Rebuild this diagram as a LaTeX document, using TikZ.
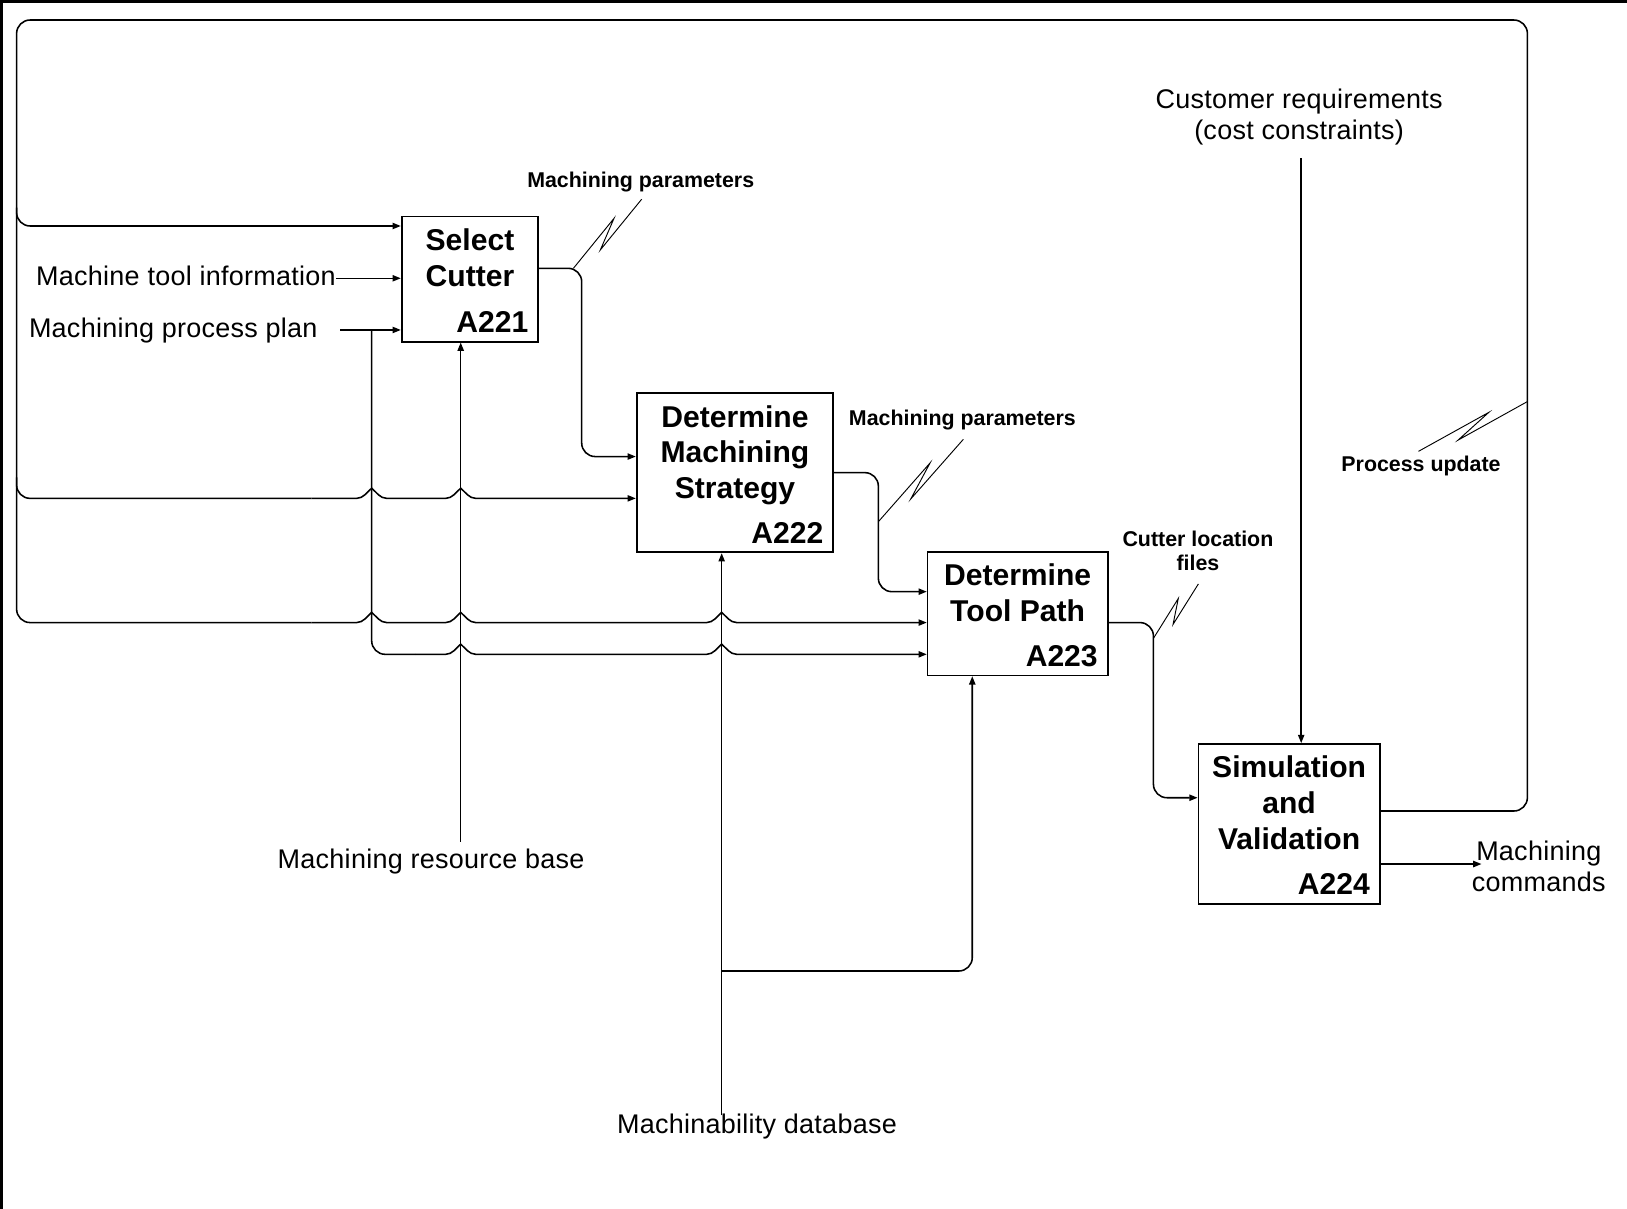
\documentclass[tikz,border=0pt]{standalone}
\usepackage{fontspec}
\setmainfont{Liberation Sans}
\usetikzlibrary{arrows.meta,calc}

% bump drawn where a horizontal arrow passes over a vertical one
\newcommand{\arrowhop}[2]{%
  -- ({#1-14.5},#2)
  .. controls ({#1-8},#2) and ({#1-4.5},{#2-6}) .. (#1,{#2-9.8})
  .. controls ({#1+4.5},{#2-6}) and ({#1+8},#2) .. ({#1+14.5},#2)}
% IDEF0 squiggle tying an arrow to its label
\newcommand{\idefsquig}[2]{%
  \draw[squig] (#1) -- ($(#1)!0.66!(#2)!3pt!90:(#2)$)
    -- ($(#1)!0.33!(#2)!3pt!-90:(#2)$) -- (#2);}

\begin{document}
\begin{tikzpicture}[x=0.5pt,y=-0.5pt,
  actbox/.style={draw, line width=0.8pt, inner sep=0pt},
  title/.style={font=\fontsize{14.5}{17.25}\selectfont\bfseries, align=center, inner sep=0pt, anchor=north},
  code/.style={font=\fontsize{14.5}{17.25}\selectfont\bfseries, inner sep=0pt, anchor=base east},
  lbl/.style={font=\fontsize{13}{15}\selectfont\addfontfeatures{LetterSpace=1}, align=center, inner sep=0pt},
  note/.style={font=\fontsize{10.3}{11.75}\selectfont\bfseries, align=center, inner sep=0pt},
  wire/.style={line width=0.75pt, rounded corners=6.5pt},
  conn/.style={wire, -{Triangle[length=4pt,width=3pt]}},
  hopconn/.style={line width=0.75pt, sharp corners, -{Triangle[length=4pt,width=3pt]}},
  squig/.style={line width=0.45pt, line join=miter},
]
\useasboundingbox (0,0) rectangle (1568,1165);

% frame lines along the top and left edge
\draw[line width=1.3pt] (1.5,1165) -- (1.5,1.5) -- (1568,1.5);

% activity boxes
\node[actbox, minimum width=65.85pt, minimum height=60.25pt] (A221) at (452.95,269.05) {};
\node[actbox, minimum width=94.7pt, minimum height=76.65pt] (A222) at (708.3,455.65) {};
\node[actbox, minimum width=86.75pt, minimum height=59.6pt] (A223) at (980.75,591.3) {};
\node[actbox, minimum width=87.35pt, minimum height=77pt] (A224) at (1242.35,794) {};

\node[title] (t221) at ([yshift=-6pt]A221.north) {Select\\Cutter};
\node[code] (c221) at ([xshift=-5pt,yshift=4.75pt]A221.south east) {A221};
\node[title] (t222) at ([yshift=-6pt]A222.north) {Determine\\Machining\\Strategy};
\node[code] (c222) at ([xshift=-5pt,yshift=4.75pt]A222.south east) {A222};
\node[title] (t223) at ([yshift=-6pt]A223.north) {Determine\\Tool Path};
\node[code] (c223) at ([xshift=-5pt,yshift=4.75pt]A223.south east) {A223};
\node[title] (t224) at ([yshift=-6pt]A224.north) {Simulation\\and\\Validation};
\node[code] (c224) at ([xshift=-5pt,yshift=4.75pt]A224.south east) {A224};

% arrow labels
\node[lbl, anchor=base east] (mti) at (324,275) {Machine tool information};
\node[lbl, anchor=base] (mpp) at (167,325) {Machining process plan};
\node[lbl, anchor=north] (cust) at (1252,85) {Customer requirements\\(cost constraints)};
\node[lbl, anchor=base] (mrb) at (415.5,837) {Machining resource base};
\node[lbl, anchor=base] (mdb) at (729.5,1092.3) {Machinability database};
\node[lbl, anchor=north] (cmd) at (1483,810) {Machining\\commands};

\node[note, anchor=base] (mp1) at (617.5,180.5) {Machining parameters};
\node[note, anchor=base] (mp2) at (927.5,409.6) {Machining parameters};
\node[note, anchor=north] (clf) at (1154.5,511) {Cutter location\\files};
\node[note, anchor=base] (pu) at (1369.5,454.5) {Process update};

% free ends of the boundary arrows and joints of the hopping runs
\coordinate (mppOut) at (328,318);
\coordinate (ppSplit) at (358.2,318);
\coordinate (ppRun) at (400,630.6);
\coordinate (fbRun) at (300,600);
\coordinate (brRun) at (300,480.3);
\coordinate (rbTop) at (444,811);
\coordinate (dbTop) at (695.5,1075);
\coordinate (dbJoin) at (695.5,935.8);
\coordinate (dbX) at (937,935.8);
\coordinate (custIn) at (1254,152.6);
\coordinate (cmdTip) at (1427.8,832.7);

% feedback loop from A224 round the whole diagram
\draw[wire] (A224.east |- 0,781.6) -- (1472,781.6) -- (1472,19.3) -- (16,19.3) -- (16,600) -- (fbRun);
\draw[hopconn] (fbRun) \arrowhop{358.2}{600} \arrowhop{444}{600} \arrowhop{695.5}{600}
  -- (A223.west |- 0,600);
\draw[conn] (16,200) |- (A221.west |- 0,217.8);
\draw[wire] (16,460) |- (brRun);
\draw[hopconn] (brRun) \arrowhop{358.2}{480.3} \arrowhop{444}{480.3} -- (A222.west |- 0,480.3);

% inputs
\draw[conn] (mti.east |- 0,268.2) -- (A221.west |- 0,268.2);
\draw[conn] (mppOut) -- (A221.west |- 0,318);
\draw[wire] (ppSplit) |- (ppRun);
\draw[hopconn] (ppRun) \arrowhop{444}{630.6} \arrowhop{695.5}{630.6} -- (A223.west |- 0,630.6);

% mechanisms
\draw[conn] (rbTop) -- (A221.south -| rbTop);
\draw[conn] (dbTop) -- (A222.south -| dbTop);
\draw[conn] (dbJoin) -| (A223.south -| dbX);

% control
\draw[conn] (custIn) -- (A224.north -| custIn);

% outputs
\draw[conn] (A221.east |- 0,258.6) -- (560.6,258.6) -- (560.6,440) -- (A222.west |- 0,440);
\draw[conn] (A222.east |- 0,455.5) -- (846.5,455.5) -- (846.5,570.2) -- (A223.west |- 0,570.2);
\draw[conn] (A223.east |- 0,600) -- (1111.6,600) -- (1111.6,768.8) -- (A224.west |- 0,768.8);
\draw[conn] (A224.east |- 0,832.7) -- (cmdTip);

% squiggles
\coordinate (s1a) at (552.6,258.6); \coordinate (s1b) at (618.4,192);
\coordinate (s2a) at (846.5,502.8); \coordinate (s2b) at (928.4,423.4);
\coordinate (s3a) at (1111.6,615.2); \coordinate (s3b) at (1154.9,562.8);
\coordinate (s4a) at (1472,387); \coordinate (s4b) at (1367,435);
\idefsquig{s1a}{s1b}
\idefsquig{s2a}{s2b}
\idefsquig{s3a}{s3b}
\idefsquig{s4a}{s4b}
\end{tikzpicture}
\end{document}
